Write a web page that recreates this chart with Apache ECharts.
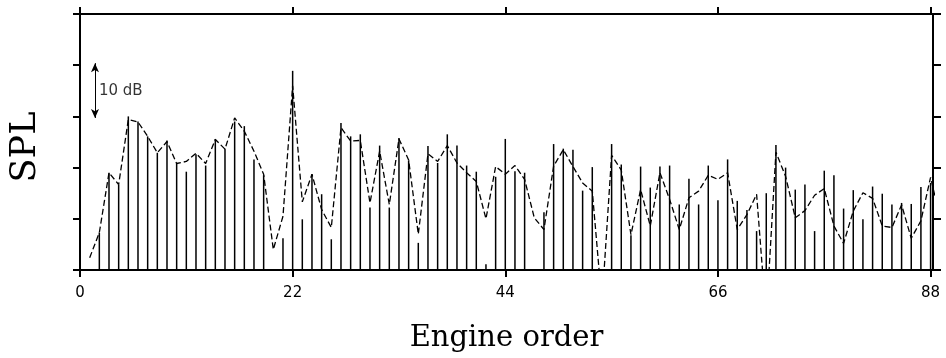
<!DOCTYPE html>
<html>
<head>
<meta charset="utf-8">
<script src="https://cdn.jsdelivr.net/npm/echarts@6/dist/echarts.min.js"></script>
<style>
html,body{margin:0;padding:0;background:#fff;}
#chart{width:946px;height:358px;}
</style>
</head>
<body>
<div id="chart"></div>
<script>
// Engine orders (x) for the stem spectrum
var orders = [];
for (var k = 1; k <= 88; k++) orders.push(k);

// Stem heights (dB, relative), null = no stem visible
var stemValues = [
  null, 7.3, 19.0, 16.7, 30.0, 29.0, 26.1, 22.9, 25.3, 20.9,
  19.2, 22.6, 20.4, 25.6, 23.7, 29.0, 28.1, 21.6, 18.5, null,
  6.2, 38.9, 9.9, 18.7, 14.8, 6.0, 28.7, 26.1, 26.5, 12.2,
  24.3, 12.2, 25.8, 21.4, 5.3, 24.2, 20.9, 26.5, 24.3, 20.4,
  19.2, 1.1, 18.2, 25.6, 19.3, 19.0, null, 11.3, 24.6, 23.7,
  23.5, 15.5, 20.1, null, 24.6, 20.6, 6.8, 20.2, 16.1, 20.2,
  20.4, 12.8, 17.8, 12.8, 20.4, 13.6, 21.6, 13.5, 11.7, 7.6,
  15.0, 24.4, 20.0, 15.7, 16.7, 7.6, 19.4, 18.5, 12.0, 15.6,
  9.9, 16.3, 14.9, 12.8, 13.1, 12.9, 16.2, 17.0
];

// Dashed curve orders and values (dB)
var curveOrders = [];
for (var j = 1; j <= 89; j++) curveOrders.push(j);
var curveValues = [
  2.4, 7.3, 19.0, 16.7, 29.4, 28.9, 26.1, 22.9, 25.1, 20.8,
  21.2, 22.8, 20.8, 25.5, 23.6, 29.7, 27.1, 23.2, 18.7, 4.0,
  10.5, 36.0, 13.3, 18.7, 11.8, 8.3, 27.8, 25.2, 25.3, 13.1,
  23.2, 12.8, 25.6, 21.5, 7.0, 22.7, 21.2, 24.3, 20.9, 19.0,
  17.3, 10.0, 20.2, 18.7, 20.4, 17.7, 10.2, 7.9, 20.3, 23.5,
  20.2, 17.0, 15.4, -6.5, 22.4, 19.5, 6.9, 15.7, 8.6, 19.0,
  13.8, 7.9, 14.1, 15.4, 18.5, 17.7, 19.0, 7.9, 10.8, 14.8,
  -9.5, 23.0, 18.3, 10.2, 11.6, 14.6, 15.9, 8.6, 5.2, 11.5,
  15.1, 14.0, 8.6, 8.3, 12.7, 6.2, 9.6, 18.1, 10.0
];

// Tick values
var xTicks = [0, 22, 44, 66, 88];
var yMin = 0, yMax = 50, yStep = 10;

// Scale annotation
var scaleBar = { x: 1.55, from: 40.4, to: 29.7, labelY: 35.0, text: '10 dB' };

var stemData = orders.map(function (o, i) { return [o, stemValues[i]]; })
  .filter(function (d) { return d[1] !== null; });
var curveData = curveOrders.map(function (o, i) { return [o, curveValues[i]]; });

var axisLineStyle = { color: '#000', width: 2 };
var tickStyle = { color: '#000', width: 2 };

var chart = echarts.init(document.getElementById('chart'), null, { renderer: 'canvas' });
chart.setOption({
  animation: false,
  backgroundColor: '#fff',
  grid: { left: 80, right: 13, top: 14, bottom: 87, containLabel: false },
  xAxis: [{
    type: 'value', position: 'bottom', min: 0, max: 88.25,
    name: 'Engine order', nameLocation: 'middle', nameGap: 54,
    nameTextStyle: { fontFamily: 'DejaVu Serif', fontSize: 29, color: '#000' },
    axisLine: { show: true, onZero: false, lineStyle: axisLineStyle },
    axisTick: { show: true, inside: false, length: 7, lineStyle: tickStyle, customValues: xTicks },
    axisLabel: { show: true, customValues: xTicks, margin: 16, color: '#000',
      fontFamily: 'DejaVu Sans', fontSize: 15 },
    splitLine: { show: false }
  }, {
    type: 'value', position: 'top', min: 0, max: 88.25,
    axisLine: { show: true, onZero: false, lineStyle: axisLineStyle },
    axisTick: { show: true, inside: false, length: 7, lineStyle: tickStyle, customValues: xTicks },
    axisLabel: { show: false },
    splitLine: { show: false }
  }],
  yAxis: [{
    type: 'value', position: 'left', min: yMin, max: yMax, interval: yStep,
    name: 'SPL', nameLocation: 'middle', nameGap: 37, nameRotate: 90,
    nameTextStyle: { fontFamily: 'DejaVu Serif', fontSize: 35, color: '#000', padding: [0, 10, 0, 0] },
    axisLine: { show: true, onZero: false, lineStyle: axisLineStyle },
    axisTick: { show: true, inside: false, length: 7, lineStyle: tickStyle },
    axisLabel: { show: false },
    splitLine: { show: false }
  }, {
    type: 'value', position: 'right', min: yMin, max: yMax, interval: yStep,
    axisLine: { show: true, onZero: false, lineStyle: axisLineStyle },
    axisTick: { show: true, inside: false, length: 8, lineStyle: tickStyle },
    axisLabel: { show: false },
    splitLine: { show: false }
  }],
  series: [{
    type: 'bar', name: 'stems', xAxisIndex: 0, yAxisIndex: 0,
    data: stemData, barWidth: 1.5,
    itemStyle: { color: '#000' }, silent: true
  }, {
    type: 'line', name: 'curve', xAxisIndex: 0, yAxisIndex: 0,
    data: curveData, showSymbol: false, symbol: 'none', clip: true,
    lineStyle: { color: '#000', width: 1.3, type: [6, 3] }, silent: true,
    markLine: {
      silent: true, symbol: ['arrow', 'arrow'], symbolSize: [6, 9],
      label: { show: false },
      lineStyle: { color: '#000', width: 1, type: 'solid' },
      data: [[{ coord: [scaleBar.x, scaleBar.from] }, { coord: [scaleBar.x, scaleBar.to] }]]
    }
  }, {
    type: 'scatter', name: 'scaleLabel', xAxisIndex: 0, yAxisIndex: 0,
    data: [[scaleBar.x, scaleBar.labelY]], symbolSize: 0, silent: true,
    label: { show: true, position: 'right', distance: 4, formatter: scaleBar.text,
      color: '#000', fontFamily: 'DejaVu Sans', fontSize: 15 }
  }]
});
</script>
</body>
</html>
